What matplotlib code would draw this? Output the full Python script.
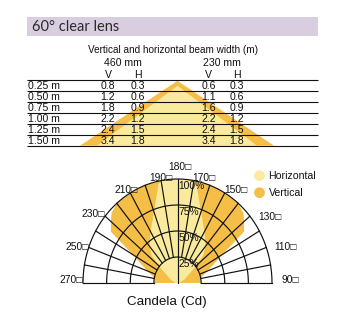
"""Beam width table + polar candela diagram for the 60 deg clear lens."""
import matplotlib
matplotlib.use('Agg')
import matplotlib.pyplot as plt
from matplotlib import font_manager
from matplotlib.patches import Rectangle, Polygon
import numpy as np

# --- Data ---
TITLE = '60° clear lens'
TABLE_TITLE = 'Vertical and horizontal beam width (m)'
GROUPS = ['460 mm', '230 mm']
DISTANCES = ['0.25 m', '0.50 m', '0.75 m', '1.00 m', '1.25 m', '1.50 m']
V_460 = [0.8, 1.2, 1.8, 2.2, 2.4, 3.4]
H_460 = [0.3, 0.6, 0.9, 1.2, 1.5, 1.8]
V_230 = [0.6, 1.1, 1.6, 2.2, 2.4, 3.4]
H_230 = [0.3, 0.6, 0.9, 1.2, 1.5, 1.8]

DEG_LABELS = [270, 250, 230, 210, 190, 180, 170, 150, 130, 110, 90]
RING_PCT = [25, 50, 75, 100]
# polar profiles: deviation from the 180 axis (deg) -> relative intensity (%)
VERT_DEV = [0, 10, 20, 30, 40, 46, 50, 55, 57, 60, 65, 70, 80, 90]
VERT_PCT = [100, 100, 100, 100, 100, 97, 92, 86, 70, 55, 42, 34, 24, 25]
HORZ_DEV = [0, 10, 12, 17, 30, 40, 46, 52, 65, 80, 90]
HORZ_PCT = [100, 100, 97, 80, 57, 46, 38, 21, 8, 3, 0]
LEGEND = ['Horizontal', 'Vertical']
AXIS_LABEL = 'Candela (Cd)'

# --- Palette ---
TITLE_BG = '#d9cee0'
INK = '#111111'
ORANGE = '#f5be47'
LIGHT = '#faea9e'

installed = {f.name for f in font_manager.fontManager.ttflist}
NARROW = ['Liberation Sans Narrow', 'Liberation Sans', 'DejaVu Sans']
NARROW = [f for f in NARROW if f in installed] or ['DejaVu Sans']
REG = ['Liberation Sans', 'DejaVu Sans']
plt.rcParams['font.family'] = NARROW

W, H = 350, 320
fig = plt.figure(figsize=(W / 100, H / 100), dpi=100, facecolor='white')

# background axes in pixel units (y down)
bg = fig.add_axes([0, 0, 1, 1])
bg.set_xlim(0, W)
bg.set_ylim(H, 0)
bg.axis('off')

# title bar
bg.add_patch(Rectangle((27, 17), 291, 19, facecolor=TITLE_BG, edgecolor='none'))
bg.text(32, 27, TITLE, fontsize=10.5, color='#2a2a2a', va='center', ha='left',
        family=['Lato', 'DejaVu Sans'])

# --- Table ---
left, right = 27, 318
top, step = 80.3, 10.9
n = len(DISTANCES)
base = top + n * step

# decorative beam triangle behind the table
bg.add_patch(Polygon([(80, base), (177.5, top + 0.5), (274, base)],
                     closed=True, facecolor=ORANGE, edgecolor='none', zorder=1))
bg.add_patch(Polygon([(97, base), (177.5, top + 5.5), (257, base)],
                     closed=True, facecolor=LIGHT, edgecolor='none', zorder=1))

bg.text(173, 50, TABLE_TITLE, fontsize=7.2, color=INK, ha='center', va='center')
col_x = [108, 137.5, 208.5, 236.5]
group_x = [123, 222]
for gx, g in zip(group_x, GROUPS):
    bg.text(gx, 63.5, g, fontsize=7.6, color=INK, ha='center', va='center')
for cx, lab in zip(col_x, ['V', 'H', 'V', 'H']):
    bg.text(cx, 74.5, lab, fontsize=7.6, color=INK, ha='center', va='center')

for i in range(n + 1):
    bg.plot([left, right], [top + i * step] * 2, color=INK, lw=0.8, zorder=2,
            solid_capstyle='butt')

for i, d in enumerate(DISTANCES):
    y = top + (i + 0.5) * step + 0.6
    bg.text(28, y, d, fontsize=7.6, color=INK, ha='left', va='center', zorder=3)
    for cx, col in zip(col_x, [V_460, H_460, V_230, H_230]):
        bg.text(cx, y, f'{col[i]:.1f}', fontsize=7.6, color=INK,
                ha='center', va='center', zorder=3)

# --- Legend ---
for k, (lab, c) in enumerate(zip(LEGEND, [LIGHT, ORANGE])):
    y = 175.7 + k * 17
    bg.scatter([259.5], [y], s=60, color=c, edgecolors='none', zorder=3)
    bg.text(268.5, y, lab, fontsize=7.6, color=INK, ha='left', va='center')

bg.text(167, 302, AXIS_LABEL, fontsize=9.6, color=INK, ha='center', va='center',
        family=REG)

# --- Polar candela diagram (slightly taller than wide, as in the print) ---
cx, cy, rx, ry = 177.5, 283, 94.5, 104
pax = fig.add_axes([(cx - rx) / W, (H - cy - ry) / H, 2 * rx / W, 2 * ry / H],
                   projection='polar')
pax.set_theta_offset(-np.pi / 2)
pax.set_ylim(0, 100)
pax.set_aspect('auto')
pax.axis('off')


def lobe(dev, pct):
    dev = np.asarray(dev, float)
    pct = np.asarray(pct, float)
    th = np.concatenate([180 - dev[::-1], 180 + dev[1:]])
    r = np.concatenate([pct[::-1], pct[1:]])
    th = np.concatenate([[th[0]], th, [th[-1]]])
    r = np.concatenate([[0], r, [0]])
    return np.deg2rad(th), r


th, r = lobe(VERT_DEV, VERT_PCT)
pax.fill(th, r, color=ORANGE, lw=0, zorder=1)
th, r = lobe(HORZ_DEV, HORZ_PCT)
pax.fill(th, r, color=LIGHT, lw=0, zorder=2)

arc = np.linspace(np.pi / 2, 3 * np.pi / 2, 200)
for p in RING_PCT:
    pax.plot(arc, np.full_like(arc, p), color=INK, lw=0.85, zorder=3, clip_on=False)
for a in range(90, 271, 10):
    r0 = 0 if a == 180 else RING_PCT[0]
    pax.plot([np.deg2rad(a)] * 2, [r0, 100], color=INK, lw=0.85, zorder=3,
             clip_on=False)

for p in RING_PCT:
    pax.annotate(f'{p}%', xy=(np.pi, p), xytext=(1, -2), textcoords='offset pixels',
                 ha='left', va='top', fontsize=7.4, color=INK, zorder=4)

# nudges (pixels) so the labels sit where the print has them
NUDGE = {270: (0, 3), 250: (0, 0), 230: (0, 2), 210: (8, 3), 190: (12, 3),
         180: (2.5, 12), 170: (-2, 3), 150: (0, 3), 130: (8, -1), 110: (8, 0),
         90: (9, 3)}
for a in DEG_LABELS:
    ha = 'center' if a == 180 else ('right' if a > 180 else 'left')
    pax.annotate(f'{a}\u25a1', xy=(np.deg2rad(a), 100), xytext=NUDGE[a],
                 textcoords='offset pixels', ha=ha, va='center',
                 fontsize=7.4, color=INK, annotation_clip=False)

fig.savefig('out.png', dpi=100, facecolor='white')
